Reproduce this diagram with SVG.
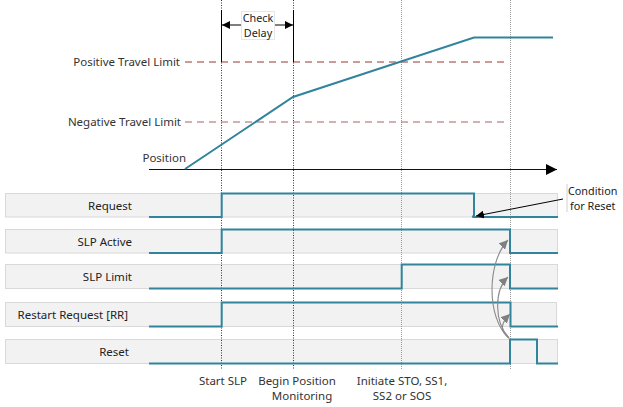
<svg xmlns="http://www.w3.org/2000/svg" width="623" height="407" viewBox="0 0 623 407">
<style>
text{font-family:"Noto Sans","Liberation Sans",sans-serif;font-size:11.5px;fill:#222}
.lbl{text-anchor:end}
.mid{text-anchor:middle}
.sm{font-size:10.8px}
.band{fill:#f2f2f2;stroke:#d9d9d9;stroke-width:1}
.sig{fill:none;stroke:#31849b;stroke-width:2;stroke-linejoin:miter}
.vd1{stroke:#333;stroke-width:1;stroke-dasharray:1,1.5}
.vd2{stroke:#999;stroke-width:1;stroke-dasharray:1,1}
.curve{fill:none;stroke:#8a8a8a;stroke-width:1.1;marker-end:url(#ga)}
.dim{fill:#333}
</style>
<defs>
<marker id="ba" viewBox="0 0 10 10" refX="10" refY="5" markerWidth="8" markerHeight="8" markerUnits="userSpaceOnUse" orient="auto"><path d="M0,0L10,5L0,10z" fill="#000"/></marker>
<marker id="ga" viewBox="0 0 10 10" refX="10" refY="5" markerWidth="9" markerHeight="9" markerUnits="userSpaceOnUse" orient="auto"><path d="M0,0L10,5L0,10z" fill="#808080"/></marker>
<marker id="axa" viewBox="0 0 10 10" refX="10" refY="5" markerWidth="11" markerHeight="11" markerUnits="userSpaceOnUse" orient="auto"><path d="M0,0L10,5L0,10z" fill="#000"/></marker>
</defs>
<rect width="623" height="407" fill="#fff"/>

<g id="bands">
<rect class="band" x="5.5" y="193.5" width="552" height="23.5"/>
<rect class="band" x="5.5" y="229.5" width="552" height="23.5"/>
<rect class="band" x="5.5" y="264.5" width="552" height="24"/>
<rect class="band" x="5.5" y="302.5" width="551" height="24"/>
<rect class="band" x="5.5" y="339.5" width="552" height="24"/>
</g>

<g id="gridlines">
<line class="vd1" x1="221.5" y1="0" x2="221.5" y2="370"/>
<line class="vd1" x1="293.5" y1="0" x2="293.5" y2="370"/>
<line class="vd2" x1="401.5" y1="0" x2="401.5" y2="370"/>
<line class="vd2" x1="510.5" y1="0" x2="510.5" y2="370"/>
</g>

<g id="limits">
<line x1="185" y1="62" x2="506" y2="62" stroke="#953735" stroke-width="1" stroke-dasharray="7,5"/>
<line x1="185" y1="122" x2="506" y2="122" stroke="#a06464" stroke-width="1" stroke-dasharray="7,5"/>
<text class="lbl dim" x="180" y="66">Positive Travel Limit</text>
<text class="lbl dim" x="181" y="126">Negative Travel Limit</text>
</g>

<g id="position-axis">
<line x1="149" y1="169.5" x2="557" y2="169.5" stroke="#111" stroke-width="1.2" marker-end="url(#axa)"/>
<polyline points="185,169 293,97 474,37.5 553,37.5" fill="none" stroke="#31849b" stroke-width="2"/>
<text class="lbl dim" x="186" y="162">Position</text>
</g>

<g id="check-delay">
<line x1="221.5" y1="10" x2="221.5" y2="62" stroke="#000" stroke-width="1"/>
<line x1="293.5" y1="10" x2="293.5" y2="62" stroke="#000" stroke-width="1"/>
<rect x="241.5" y="11.5" width="33" height="28" fill="#fff" stroke="#e6e6e6"/>
<line x1="241" y1="25" x2="222" y2="25" stroke="#000" stroke-width="1" marker-end="url(#ba)"/>
<line x1="275" y1="25" x2="293" y2="25" stroke="#000" stroke-width="1" marker-end="url(#ba)"/>
<text class="mid sm" x="258" y="22">Check</text>
<text class="mid sm" x="258" y="36.5">Delay</text>
</g>

<g id="row-request">
<text class="lbl" x="132" y="210">Request</text>
<path class="sig" d="M149,217 H221.7 V193.5 H474 V217 H558"/>
</g>
<g id="row-slp-active">
<text class="lbl" x="132" y="245.5">SLP Active</text>
<path class="sig" d="M149,253 H221.7 V229.5 H510 V253 H558"/>
</g>
<g id="row-slp-limit">
<text class="lbl" x="132" y="281">SLP Limit</text>
<path class="sig" d="M149,288.5 H401.7 V264.5 H510 V288.5 H558"/>
</g>
<g id="row-restart">
<text class="lbl" x="128" y="319">Restart Request [RR]</text>
<path class="sig" d="M149,326.5 H221.7 V302.5 H510.5 V326.5 H558"/>
</g>
<g id="row-reset">
<text class="lbl" x="129" y="356">Reset</text>
<path class="sig" d="M149,363.5 H510 V339.5 H537 V363.5 H558"/>
</g>

<g id="condition-note">
<line x1="567" y1="184" x2="567" y2="212" stroke="#d0d0d0" stroke-width="1"/>
<text class="sm" x="568" y="195">Condition</text>
<text class="sm" x="570" y="209.5">for Reset</text>
</g>

<g id="connectors">
<line x1="563" y1="199" x2="476" y2="216" stroke="#000" stroke-width="1" marker-end="url(#ba)"/>
<circle cx="473.5" cy="216.5" r="1.6" fill="#31849b"/>
<path class="curve" d="M509,338 C486,318 487,262 508,240"/>
<path class="curve" d="M509,338 C494,322 494,290 508,277"/>
<path class="curve" d="M509,338 C500,331 500,324 510,314"/>
</g>

<g id="event-labels">
<text class="mid dim" x="223" y="385">Start SLP</text>
<text class="mid dim" x="297" y="385">Begin Position</text>
<text class="mid dim" x="302" y="400">Monitoring</text>
<text class="mid dim" x="402" y="385">Initiate STO, SS1,</text>
<text class="mid dim" x="402" y="400">SS2 or SOS</text>
</g>
</svg>
